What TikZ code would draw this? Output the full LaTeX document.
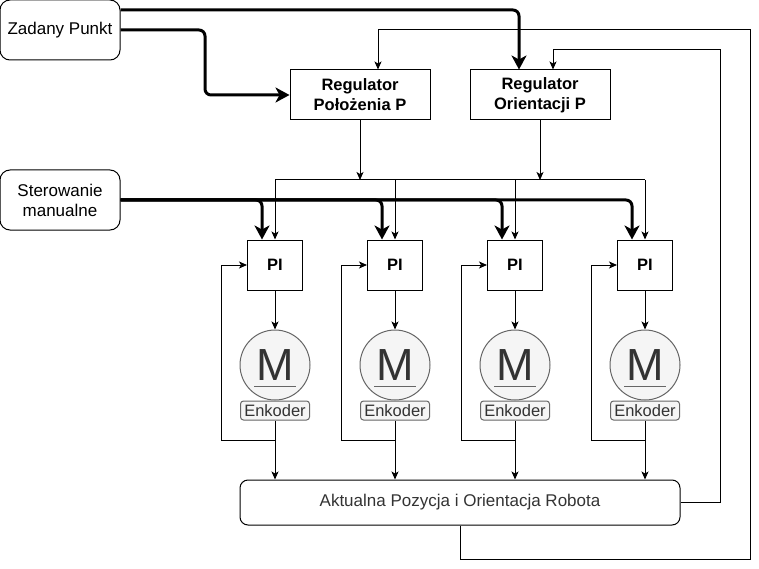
\documentclass[tikz,border=0pt]{standalone}
\usepackage{fontspec}
\setmainfont{Liberation Sans}
\usetikzlibrary{arrows.meta}
\usetikzlibrary{positioning}
\definecolor{motorfill}{HTML}{F5F5F5}
\definecolor{motorline}{HTML}{666666}
\definecolor{motortext}{HTML}{333333}

\newcommand\DrawChannel[3]{% #1 = name, #2 = x of PI, #3 = x of feedback line
  \node[pibox] (pi#1) at (#2,265) {PI};
  \node[motor] (m#1) at (#2,365) {};
  \node[mletter] (ml#1) at (m#1.center) {M};
  \draw[motorline] ([xshift=-21pt,yshift=-21pt]m#1.center) -- ([xshift=21pt,yshift=-21pt]m#1.center); % underline
  \node[enc] (e#1) at (#2,410.5) {Enkoder};
  \draw[->] (pi#1) -- (m#1);
  \draw[->] (e#1) -- (e#1 |- akt.north);
  \coordinate (f#1) at (#2,440);
  \draw[->] (f#1) -| (#3,265) -- (pi#1);
  \draw[->] (bus -| pi#1) -- (pi#1);
  \draw[thk] (sm) -| ([xshift=-13pt]pi#1.north);
}

\tikzset{%
  >={Stealth[length=8pt,width=7pt,inset=2pt]},
  txt/.style={font=\fontsize{17}{20}\selectfont},
  srcbox/.style={txt,draw,rounded corners=10pt,minimum width=120pt,minimum height=60pt,
    align=center,inner sep=0pt},
  regbox/.style={txt,draw,minimum width=140pt,minimum height=50pt,align=center,
    inner sep=0pt,font=\fontsize{16.5}{20}\selectfont\bfseries},
  pibox/.style={draw,minimum width=55pt,minimum height=50pt,inner sep=0pt,
    font=\fontsize{16.5}{20}\selectfont\bfseries},
  motor/.style={circle,draw=motorline,fill=motorfill,minimum size=70pt,inner sep=0pt},
  mletter/.style={font=\fontsize{45}{45}\selectfont,text=motortext,inner sep=0pt},
  enc/.style={draw=motorline,fill=motorfill,rounded corners=3pt,minimum width=69pt,
    minimum height=19pt,inner sep=0pt,text=motortext,font=\fontsize{16.5}{19}\selectfont},
  aktbox/.style={txt,draw,rounded corners=8pt,minimum width=440pt,minimum height=45pt,
    inner sep=0pt,text=motortext},
  thk/.style={line width=3pt,rounded corners=6pt,-{Stealth[length=14pt,width=15pt,inset=4pt]}}
}

\begin{document}
\begin{tikzpicture}[x=1pt,y=-1pt,line width=1pt]
\useasboundingbox (0,0) rectangle (759,569);

% inputs and regulators
\node[srcbox] (zp) at (60,30) {Zadany Punkt};
\node[srcbox] (sm) at (60,200) {Sterowanie\\manualne};
\node[regbox] (rpol) at (360,95) {Regulator\\Położenia P};
\node[regbox] (rori) at (540,95) {Regulator\\Orientacji P};
\node[aktbox] (akt) at (460,502.5) {Aktualna Pozycja i Orientacja Robota};

\draw[thk] ([yshift=20pt]zp.east) -| ([xshift=-21pt]rori.north);
\draw[thk] (zp) -| (205,95) -- (rpol);

% common bus to the PI controllers
\coordinate (bus) at (0,180);
\draw[->] (rpol) -- (rpol |- bus);
\draw[->] (rori) -- (rori |- bus);
\draw (275,180) -- (645,180);

\DrawChannel{1}{275}{221}
\DrawChannel{2}{395}{341}
\DrawChannel{3}{515}{461}
\DrawChannel{4}{645}{591}

% feedback to the regulators
\draw[->] (akt.east) -| (720,50) -| ([xshift=13pt]rori.north);
\draw[->] (akt.south) -- ++(0,34) -| (750,30) -| ([xshift=18pt]rpol.north);
\end{tikzpicture}
\end{document}
